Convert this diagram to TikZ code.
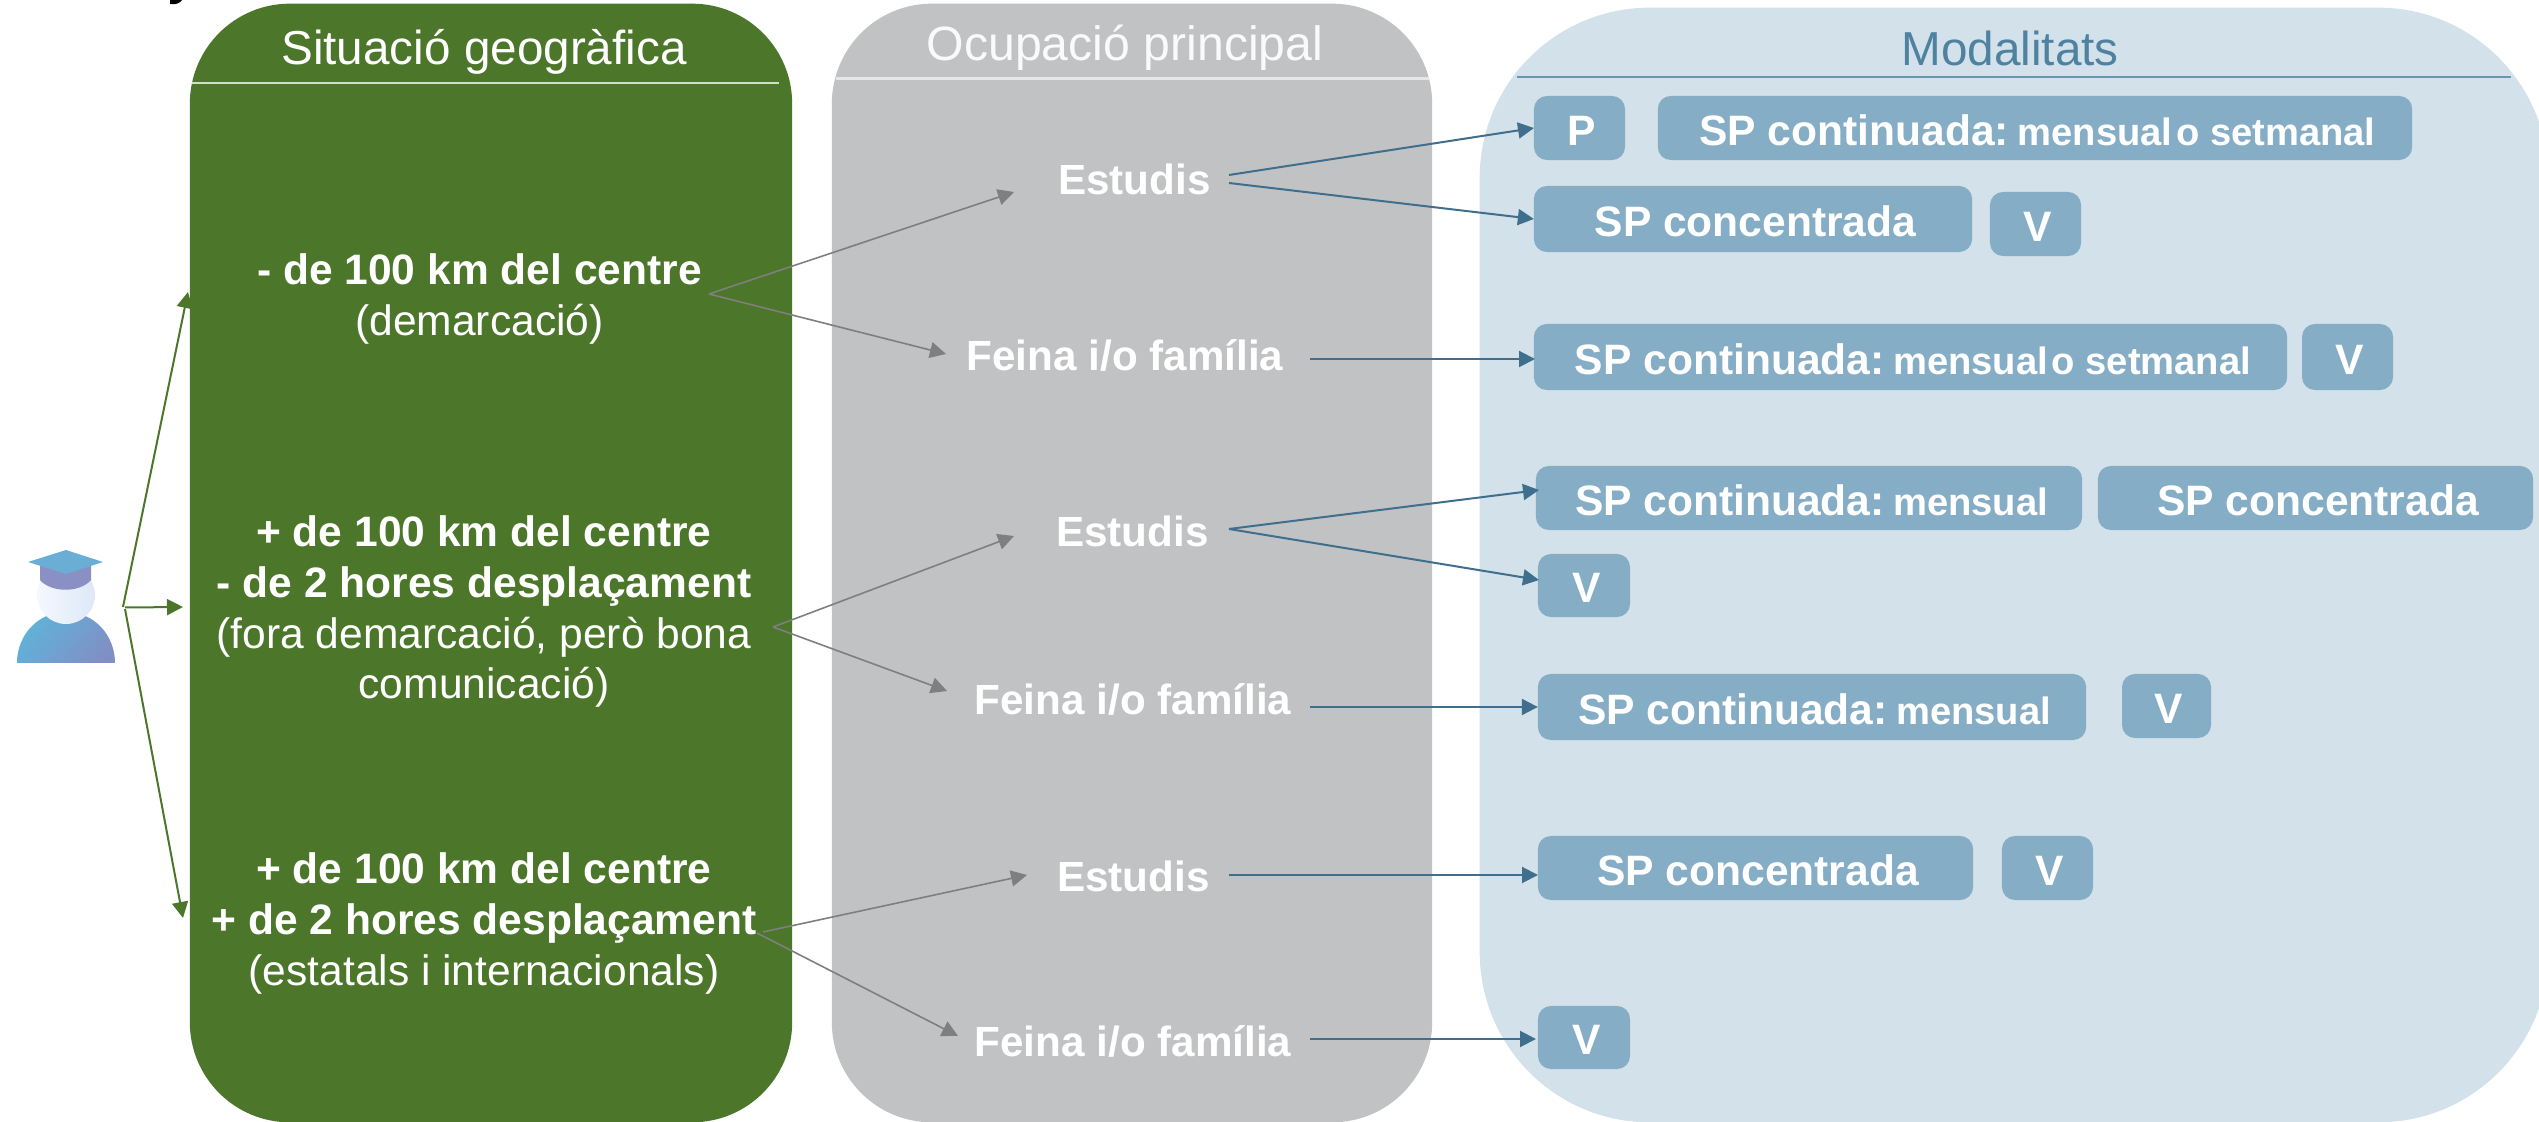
\documentclass[tikz,border=0pt]{standalone}
\usepackage{fontspec}
\setmainfont{Liberation Sans}
\usetikzlibrary{arrows.meta}
\definecolor{greenpanel}{HTML}{4C762A}
\definecolor{greypanel}{HTML}{C1C2C4}
\definecolor{bluepanel}{HTML}{D3E1EA}
\definecolor{boxblue}{HTML}{85ADC5}
\definecolor{bluearrow}{HTML}{3F6F8D}
\definecolor{greyarrow}{HTML}{7F7F7F}
\definecolor{headblue}{HTML}{4F82A0}
\definecolor{bodyL}{HTML}{5FB3DA}
\definecolor{bodyR}{HTML}{8090C4}
\definecolor{headL}{HTML}{F4F8FE}
\definecolor{headR}{HTML}{DDE8F8}
\definecolor{capband}{HTML}{8A90C4}
\definecolor{captop}{HTML}{6AAED6}
\tikzset{
  panel/.style={inner sep=0pt,outer sep=0pt,rounded corners=1cm},
  headtext/.style={font=\fontsize{13.55pt}{16pt}\selectfont,anchor=base,inner sep=0pt},
  blocktext/.style={font=\fontsize{12.1pt}{14.5pt}\selectfont,text=white,align=center,inner sep=0pt},
  optext/.style={font=\fontsize{12pt}{14.5pt}\selectfont\bfseries,text=white,anchor=base,inner sep=0pt},
  modbox/.style={fill=boxblue,rounded corners=0.13cm,inner sep=0pt,outer sep=0pt,text=white,
     font=\fontsize{12.1pt}{14.5pt}\selectfont\bfseries,text height=0.34cm,text depth=0pt,
     execute at begin node={\hspace{0.05cm}}},
  headline/.style={line width=0.025cm},
  greenarrow/.style={draw=greenpanel,line width=0.02cm,-{Triangle[length=0.16cm,width=0.16cm]}},
  greyconn/.style={draw=greyarrow,line width=0.016cm,-{Triangle[length=0.16cm,width=0.16cm]}},
  blueconn/.style={draw=bluearrow,line width=0.02cm,-{Triangle[length=0.16cm,width=0.16cm]}},
}
\newcommand{\smalltxt}[1]{{\fontsize{10.85pt}{14.5pt}\selectfont #1}}
\newcommand{\spc}{SP continuada:\hspace{0.2em}}
\newcommand{\mos}{{\spaceskip=0.1em\relax mensual o} setmanal}
\begin{document}
\begin{tikzpicture}[x=0.01cm,y=-0.01cm]
\path[use as bounding box,clip] (0,0) rectangle (2539,1122);
% clipped descender at the top edge
\fill[black] (170,0) -- (182,0) .. controls (180,3) and (176,5) .. (170,4) -- cycle;
% panels
\node[panel,fill=greenpanel,minimum width=6.02cm,minimum height=11.18cm] (pgreen) at (491,563) {};
\node[panel,fill=greypanel,minimum width=6.00cm,minimum height=11.18cm] (pgrey) at (1132,563) {};
\node[panel,fill=bluepanel,rounded corners=1.7cm,minimum width=10.68cm,minimum height=11.14cm] (pblue) at (2014,565) {};
% headers
\node[headtext,text=white] (hgreen) at (484,65) {Situació geogràfica};
\node[headtext,text=white!92!greypanel,font=\fontsize{13.7pt}{16pt}\selectfont] (hgrey) at (1125,61) {Ocupació principal};
\node[headtext,text=headblue] (hblue) at (2010,66) {Modalitats};
\coordinate (lg1) at (192,83); \coordinate (lg2) at (779,83);
\coordinate (lc1) at (836,78.5); \coordinate (lc2) at (1429,78.5);
\coordinate (lb1) at (1517,77); \coordinate (lb2) at (2511,77);
\draw[headline,draw=white!75!greenpanel] (lg1) -- (lg2);
\draw[headline,draw=white!60!greypanel] (lc1) -- (lc2);
\draw[headline,draw=headblue!85!white] (lb1) -- (lb2);
% location blocks
\node[blocktext] (loc1) at (479.5,298.5) {\textbf{- de 100 km del centre}\\(demarcació)};
\node[blocktext] (loc2) at (484,611.5) {\textbf{+ de 100 km del centre}\\\textbf{- de 2 hores desplaçament}\\(fora demarcació, però bona\\comunicació)};
\node[blocktext] (loc3) at (484,923.5) {\textbf{+ de 100 km del centre}\\\textbf{+ de 2 hores desplaçament}\\(estatals i internacionals)};
% occupations
\node[optext] (est1) at (1134.5,194.5) {Estudis};
\node[optext] (fei1) at (1125,371) {Feina i/o família};
\node[optext] (est2) at (1132.5,547) {Estudis};
\node[optext] (fei2) at (1133,714.5) {Feina i/o família};
\node[optext] (est3) at (1133.5,891) {Estudis};
\node[optext] (fei3) at (1133,1056) {Feina i/o família};
% modality boxes
\node[modbox,minimum width=0.91cm,minimum height=0.64cm] (p1) at (1579.5,128) {P};
\node[modbox,minimum width=7.54cm,minimum height=0.64cm] (c1) at (2035,128) {\spc\smalltxt{\mos}};
\node[modbox,minimum width=4.38cm,minimum height=0.66cm] (k1) at (1753,219) {SP concentrada};
\node[modbox,minimum width=0.91cm,minimum height=0.64cm] (v1) at (2035.5,224) {V};
\node[modbox,minimum width=7.53cm,minimum height=0.66cm] (c2) at (1910.5,357) {\spc\smalltxt{\mos}};
\node[modbox,minimum width=0.91cm,minimum height=0.66cm] (v2) at (2347.5,357) {V};
\node[modbox,minimum width=5.46cm,minimum height=0.64cm] (c3) at (1809,498) {\spc\smalltxt{mensual}};
\node[modbox,minimum width=4.35cm,minimum height=0.64cm] (k2) at (2315.5,498) {SP concentrada};
\node[modbox,minimum width=0.92cm,minimum height=0.63cm] (v3) at (1584,585.5) {V};
\node[modbox,minimum width=5.48cm,minimum height=0.66cm] (c4) at (1812,707) {\spc\smalltxt{mensual}};
\node[modbox,minimum width=0.89cm,minimum height=0.64cm] (v4) at (2166.5,706) {V};
\node[modbox,minimum width=4.35cm,minimum height=0.64cm] (k3) at (1755.5,868) {SP concentrada};
\node[modbox,minimum width=0.91cm,minimum height=0.64cm] (v5) at (2047.5,868) {V};
\node[modbox,minimum width=0.92cm,minimum height=0.63cm] (v6) at (1584,1037.5) {V};
% graduate icon
\path[top color=bodyL,bottom color=bodyR,shading angle=50] (17,663) .. controls (17,635) and (38,612) .. (66,612) .. controls (94,612) and (115,635) .. (115,663) -- cycle;
\path[left color=headL,right color=headR] (66,595) circle [radius=29];
\path[fill=capband] (40,562) -- (91,562) -- (91,580) .. controls (80,593) and (51,593) .. (40,580) -- cycle;
\path[fill=captop] (28,562) -- (66,550) -- (103,562) -- (66,574) -- cycle;
% student fan
\coordinate (sA) at (123,607); \coordinate (sB) at (125,607.5); \coordinate (sC) at (125,609);
\coordinate (tA) at (188,292); \coordinate (tB) at (183,607); \coordinate (tC) at (183,918);
\draw[greenarrow] (sA) -- (tA);
\draw[greenarrow] (sB) -- (tB);
\draw[greenarrow] (sC) -- (tC);
% location to occupation
\coordinate (f1) at (709,294); \coordinate (f1a) at (1014,192); \coordinate (f1b) at (946,354);
\coordinate (f2) at (773,627); \coordinate (f2a) at (1014,536); \coordinate (f2b) at (947,691);
\coordinate (f3) at (763,932); \coordinate (f3x) at (757,933); \coordinate (f3a) at (1027,875); \coordinate (f3b) at (958,1036);
\draw[greyconn] (f1) -- (f1a);
\draw[greyconn] (f1) -- (f1b);
\draw[greyconn] (f2) -- (f2a);
\draw[greyconn] (f2) -- (f2b);
\draw[greyconn] (f3) -- (f3a);
\draw[greyconn] (f3x) -- (f3b);
% occupation to modality
\coordinate (e1a) at (1229,175); \coordinate (e1b) at (1229,183);
\coordinate (e2) at (1229,529); \coordinate (e3) at (1229,875);
\coordinate (g1) at (1310,359); \coordinate (g2) at (1310,707); \coordinate (g3) at (1310,1039);
\coordinate (c3in) at (1539,490); \coordinate (v3in) at (1539,580);
\coordinate (c2in) at (1535,359); \coordinate (k3in) at (1538,875); \coordinate (v6in) at (1536,1039);
\draw[blueconn] (e1a) -- (p1.west);
\draw[blueconn] (e1b) -- (k1.west);
\draw[blueconn] (g1) -- (c2in);
\draw[blueconn] (e2) -- (c3in);
\draw[blueconn] (e2) -- (v3in);
\draw[blueconn] (g2) -- (c4.west);
\draw[blueconn] (e3) -- (k3in);
\draw[blueconn] (g3) -- (v6in);
\end{tikzpicture}
\end{document}
